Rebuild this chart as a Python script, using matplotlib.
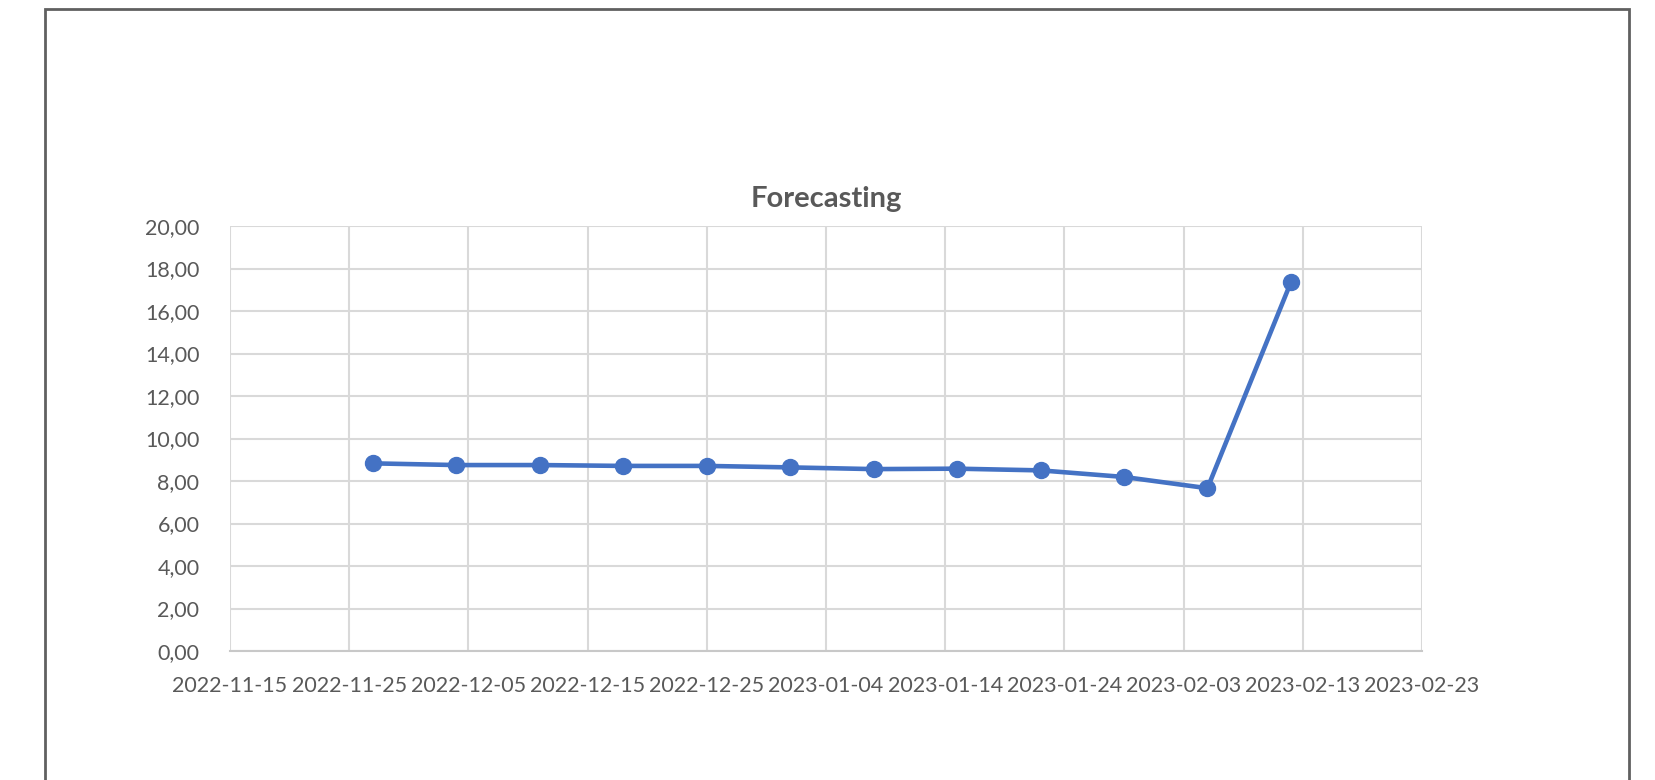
import matplotlib
matplotlib.use("Agg")
import matplotlib.pyplot as plt
import matplotlib.dates as mdates
from matplotlib.patches import Rectangle
from matplotlib.ticker import FuncFormatter, MultipleLocator
import numpy as np

dates = ["2022-11-27", "2022-12-04", "2022-12-11", "2022-12-18", "2022-12-25", "2023-01-01",
         "2023-01-08", "2023-01-15", "2023-01-22", "2023-01-29", "2023-02-05", "2023-02-12"]
values = [8.83, 8.75, 8.75, 8.71, 8.71, 8.64, 8.56, 8.58, 8.50, 8.19, 7.66, 17.35]
tick_dates = ["2022-11-15", "2022-11-25", "2022-12-05", "2022-12-15", "2022-12-25", "2023-01-04",
              "2023-01-14", "2023-01-24", "2023-02-03", "2023-02-13", "2023-02-23"]
title = "Forecasting"

txt = "#595959"
blue = "#4472C4"
plt.rcParams['font.family'] = ['Lato', 'DejaVu Sans']

fig = plt.figure(figsize=(16.56, 7.8), dpi=100)
ax = fig.add_axes([230 / 1656, 1 - 651 / 780, (1422 - 230) / 1656, (651 - 226) / 780])

x = np.array(dates, dtype="datetime64[D]").astype("O")
ax.plot(x, values, color=blue, lw=3.3, marker="o", ms=11.5, zorder=3)

ticks = [mdates.datestr2num(d) for d in tick_dates]
ax.set_xticks(ticks)
ax.set_xticklabels(tick_dates)
ax.set_xlim(ticks[0], ticks[-1])
ax.set_ylim(0, 20)
ax.yaxis.set_major_locator(MultipleLocator(2))
ax.yaxis.set_major_formatter(FuncFormatter(lambda v, p: f"{v:.2f}".replace(".", ",")))

ax.grid(True, color="#D9D9D9", lw=1.5)
ax.set_axisbelow(True)
for s in ["top", "right", "left"]:
    ax.spines[s].set_visible(False)
ax.spines["bottom"].set_color("#C8C8C8")
ax.spines["bottom"].set_linewidth(1.5)
ax.tick_params(length=0, labelsize=15.5, colors=txt)
ax.tick_params(axis="y", pad=22)
ax.tick_params(axis="x", pad=18)

ax.set_title(title, fontsize=21, fontweight="bold", color=txt, pad=14)

# chart border
fig.patches.append(Rectangle((44.7 / 1656, -0.1), (1629 - 44.7) / 1656, 1.1 - 9 / 780,
                             transform=fig.transFigure, fill=False, edgecolor="#606060", lw=2))

fig.savefig("out.png", dpi=100)
